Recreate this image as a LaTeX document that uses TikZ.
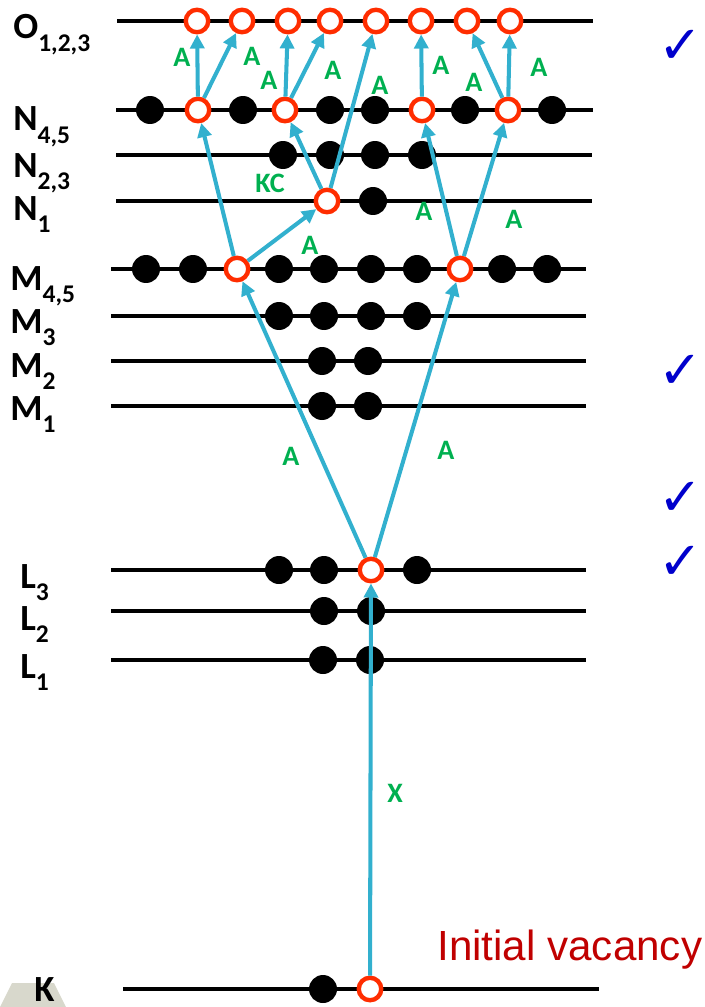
\documentclass[tikz,border=0pt]{standalone}
\usepackage{fontspec}
\setmainfont{Carlito}
\newfontfamily\vacfont{Liberation Sans}
\newfontfamily\tickfont{DejaVu Sans}
\usepackage{xcolor}
\usepackage{tikz}
\usetikzlibrary{arrows.meta}
\definecolor{AugCyan}{RGB}{50,176,206}
\definecolor{AugRed}{RGB}{255,45,0}
\definecolor{AugGreen}{RGB}{0,176,80}
\definecolor{AugBlue}{RGB}{0,0,204}
\definecolor{AugDark}{RGB}{192,0,0}
\definecolor{AugLogo}{RGB}{216,216,204}
\newcommand{\shelllab}[2]{#1\raisebox{-7pt}{\fontsize{14.5}{14.5}\selectfont #2}}

\begin{document}
\begin{tikzpicture}[
  x=0.02cm, y=-0.02cm,
  level/.style={line width=2.2pt, draw=black},
  elec/.style={circle, fill=black, minimum size=0.56cm, inner sep=0pt},
  hole/.style={circle, draw=AugRed, fill=white, line width=2.5pt, minimum size=0.45cm, inner sep=0pt},
  jump/.style={-{Triangle[length=8pt,width=8pt]}, line width=2.3pt, draw=AugCyan},
  tag/.style={text=AugGreen, font=\fontsize{16}{16}\selectfont\bfseries, inner sep=0pt},
  shell/.style={anchor=base west, inner sep=0pt, font=\fontsize{21}{21}\selectfont\bfseries},
  tick/.style={anchor=east, inner sep=0pt, text=AugBlue, font=\tickfont\bfseries\fontsize{30}{30}\selectfont}
]
\useasboundingbox (0,0) rectangle (704,1007);
\fill[AugLogo] (0,1007) -- (12,983) -- (54,983) -- (66,1007) -- cycle;

\draw[level] (117,21) -- (593,21);
\draw[level] (116,110) -- (593,110);
\draw[level] (116,155) -- (592,155);
\draw[level] (116,201) -- (592,201);
\draw[level] (111,269) -- (586,269);
\draw[level] (111,316) -- (586,316);
\draw[level] (111,361) -- (586,361);
\draw[level] (111,406) -- (586,406);
\draw[level] (111,570) -- (586,570);
\draw[level] (111,611) -- (586,611);
\draw[level] (111,660) -- (586,660);
\draw[level] (123,989) -- (599,989);

\node[hole] (oa) at (197,21) {};
\node[hole] (ob) at (242,21) {};
\node[hole] (oc) at (288,21) {};
\node[hole] (od) at (330,21) {};
\node[hole] (oe) at (376,21) {};
\node[hole] (of) at (421,21) {};
\node[hole] (og) at (467,21) {};
\node[hole] (oh) at (510,21) {};

\node[elec] (nfa) at (150,110) {};
\node[hole] (nfvA) at (198,110) {};
\node[elec] (nfb) at (243,110) {};
\node[hole] (nfvB) at (285,110) {};
\node[elec] (nfc) at (330,110) {};
\node[elec] (nfd) at (375,110) {};
\node[hole] (nfvC) at (422,110) {};
\node[elec] (nfe) at (465,110) {};
\node[hole] (nfvD) at (508,110) {};
\node[elec] (nff) at (552,110) {};

\node[elec] (nta) at (283,155) {};
\node[elec] (ntb) at (330,155) {};
\node[elec] (ntc) at (375,155) {};
\node[elec] (ntd) at (422,155) {};

\node[hole] (novA) at (327,201) {};
\node[elec] (noa) at (373,201) {};

\node[elec] (mfa) at (146,269) {};
\node[elec] (mfb) at (193,269) {};
\node[hole] (mfvA) at (237,269) {};
\node[elec] (mfc) at (279,269) {};
\node[elec] (mfd) at (324,269) {};
\node[elec] (mfe) at (371,269) {};
\node[elec] (mff) at (417,269) {};
\node[hole] (mfvB) at (460,269) {};
\node[elec] (mfg) at (502,269) {};
\node[elec] (mfh) at (547,269) {};

\node[elec] (mta) at (279,316) {};
\node[elec] (mtb) at (324,316) {};
\node[elec] (mtc) at (371,316) {};
\node[elec] (mtd) at (417,316) {};

\node[elec] (mwa) at (322,361) {};
\node[elec] (mwb) at (368,361) {};
\node[elec] (moa) at (322,406) {};
\node[elec] (mob) at (368,406) {};

\node[elec] (lta) at (279,570) {};
\node[elec] (ltb) at (324,570) {};
\node[hole] (ltvA) at (371,570) {};
\node[elec] (ltc) at (417,570) {};

\node[elec] (lwa) at (324,611) {};
\node[elec] (lwb) at (371,611) {};
\node[elec] (loa) at (323,660) {};
\node[elec] (lob) at (370,660) {};

\node[elec] (ka) at (323,989) {};
\node[hole] (kvA) at (370,989) {};

\draw[jump] (kvA) -- (ltvA);
\draw[jump] (ltvA) -- (mfvA);
\draw[jump] (ltvA) -- (mfvB);
\draw[jump] (mfvA) -- (nfvA);
\draw[jump] (mfvA) -- (novA);
\draw[jump] (novA) -- (nfvB);
\draw[jump] (novA) -- (oe);
\draw[jump] (mfvB) -- (nfvC);
\draw[jump] (mfvB) -- (nfvD);
\draw[jump] (nfvA) -- (oa);
\draw[jump] (nfvA) -- (ob);
\draw[jump] (nfvB) -- (oc);
\draw[jump] (nfvB) -- (od);
\draw[jump] (nfvC) -- (of);
\draw[jump] (nfvD) -- (og);
\draw[jump] (nfvD) -- (oh);

\node[tag] (tagX) at (395,793) {X};
\node[tag] (tagLa) at (291,456) {A};
\node[tag] (tagLb) at (446,450) {A};
\node[tag] (tagMa) at (310,245) {A};
\node[tag] (tagKC) at (270,183) {KC};
\node[tag] (tagMb) at (424,211) {A};
\node[tag] (tagMc) at (514,219) {A};
\node[tag] (tagNa) at (182,57) {A};
\node[tag] (tagNb) at (252,56) {A};
\node[tag] (tagNc) at (269,80) {A};
\node[tag] (tagNd) at (333,70) {A};
\node[tag] (tagNe) at (380,85) {A};
\node[tag] (tagNf) at (441,65) {A};
\node[tag] (tagNg) at (474,82) {A};
\node[tag] (tagNh) at (539,67) {A};

\node[shell] (shO) at (13,39) {\shelllab{O}{1,2,3}};
\node[shell] (shNfour) at (13,131) {\shelllab{N}{4,5}};
\node[shell] (shNtwo) at (13,177) {\shelllab{N}{2,3}};
\node[shell] (shNone) at (13,220) {\shelllab{N}{1}};
\node[shell] (shMfour) at (10,290) {\shelllab{M}{4,5}};
\node[shell] (shMthree) at (10,333) {\shelllab{M}{3}};
\node[shell] (shMtwo) at (10,377) {\shelllab{M}{2}};
\node[shell] (shMone) at (10,420) {\shelllab{M}{1}};
\node[shell] (shLthree) at (20,588) {\shelllab{L}{3}};
\node[shell] (shLtwo) at (20,630) {\shelllab{L}{2}};
\node[shell] (shLone) at (20,678) {\shelllab{L}{1}};
\node[shell] (shK) at (34,1001) {K};

\node[anchor=base west, inner sep=0pt, text=AugDark, font=\vacfont\fontsize{24}{24}\selectfont] (vacancy) at (437,960) {Initial vacancy};

\node[tick] (tickA) at (703,47) {✓};
\node[tick] (tickB) at (703,372) {✓};
\node[tick] (tickC) at (703,499) {✓};
\node[tick] (tickD) at (703,563) {✓};
\end{tikzpicture}
\end{document}
